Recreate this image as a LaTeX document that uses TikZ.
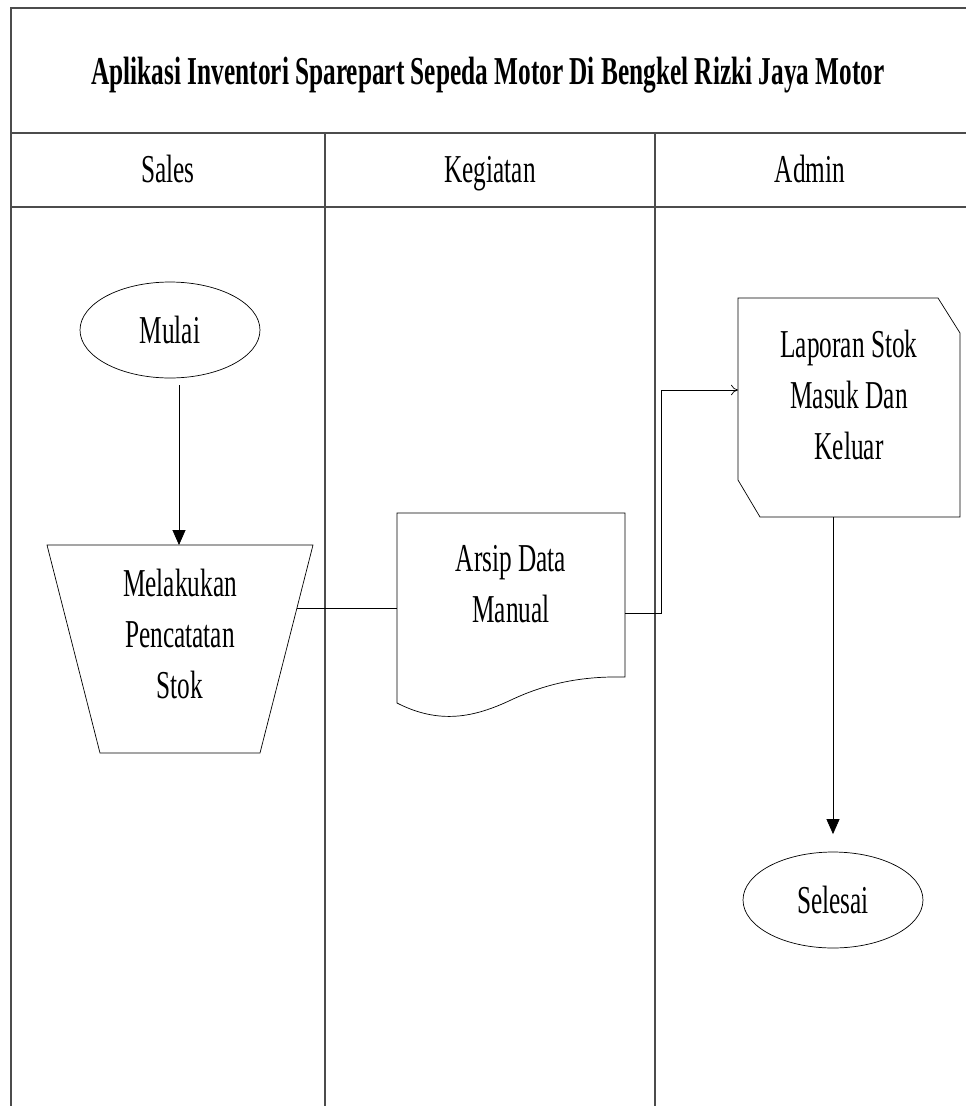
\documentclass[tikz,border=0pt]{standalone}
\usepackage{fontspec}
\setmainfont{Liberation Serif}[FakeStretch=0.64]
\usetikzlibrary{shapes.geometric,arrows.meta}
\begin{document}
\begin{tikzpicture}[x=0.02cm,y=-0.02cm,
  font=\fontsize{22.5}{29.2}\selectfont,
  frame/.style={draw=black!70,line width=1.1pt},
  term/.style={draw,ellipse,minimum width=3.6cm,minimum height=1.92cm,inner sep=0pt},
  txt/.style={align=center,inner sep=0pt},
  arr/.style={-{Triangle[length=8.5pt,width=7.4pt]}},
  arrow2/.style={-{To[length=4pt,width=6pt]}}]
\useasboundingbox (0,0) rectangle (966,1106);
\draw[frame] (11,1115) -- (11,8) -- (975,8);
\draw[frame] (11,133) -- (975,133);
\draw[frame] (11,207) -- (975,207);
\foreach \x in {325,655} {
  \draw[frame] (\x,133) -- (\x,1115);
}
\node[font=\bfseries\fontsize{22.5}{28.5}\selectfont] (judul) at (488,75) {Aplikasi Inventori Sparepart Sepeda Motor Di Bengkel Rizki Jaya Motor};
\foreach \x/\t in {168/Sales,490/Kegiatan,810/Admin} {
  \node[anchor=base] (\t) at (\x,182) {\t};
}
\node[term] (mulai) at (170,330) {Mulai};
% manual input
\draw (47,545) -- (313,545) -- (260,753) -- (100,753) -- cycle;
\node[txt] (catat) at (180,634) {Melakukan\\Pencatatan\\Stok};
% dokumen
\draw (397,513) -- (625,513) -- (625,677)
  .. controls (580,676) and (545,684) .. (511,700)
  .. controls (475,717) and (440,725) .. (397,703) -- cycle;
\node[txt,minimum width=4.56cm] (arsip) at (511,584) {Arsip Data\\Manual};
% laporan
\draw (738,298) -- (938,298) -- (960,333) -- (960,517) -- (760,517) -- (738,480) -- cycle;
\node[txt] (laporan) at (849,395) {Laporan Stok\\Masuk Dan\\Keluar};
\node[term] (selesai) at (833,900) {Selesai};
\coordinate (catatAtas) at (179,545);
\coordinate (catatR) at (297,608);
\coordinate (belok) at (661,613);
\coordinate (lapIn) at (738,390);
\coordinate (lapBawah) at (833,517);
\draw[arr,shorten <=4pt] (mulai.south -| catatAtas) -- (catatAtas);
\draw (catatR) -- (arsip.west |- catatR);
\draw[arrow2] (arsip.east |- belok) -- (belok) |- (lapIn);
\draw[arr,shorten >=10pt] (lapBawah) -- (selesai.north);
\end{tikzpicture}
\end{document}
